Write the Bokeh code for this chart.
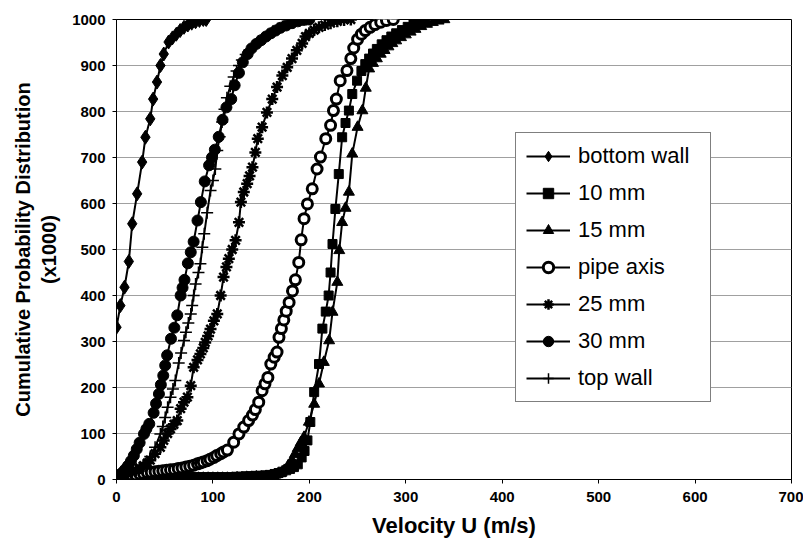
from bokeh.plotting import figure
from bokeh.models import Range1d, FixedTicker, Title
from bokeh.embed import file_html
from bokeh.resources import INLINE

# ---- data (velocity in m/s, cumulative probability x1000) ----
v_bottom = [0, 4, 8.3, 12.8, 16.3, 21.4, 26.6, 30, 35, 38, 42, 45.6, 49, 54, 58, 62, 66, 70, 74, 78, 82, 86, 90, 93]
c_bottom = [331, 378, 418, 474, 556, 621, 690, 744, 784, 827, 864, 900, 925, 951, 960, 968, 976, 983, 988, 992, 995, 998, 1000, 1000]

v_10 = [0, 5, 10, 15, 20, 25, 30, 35, 40, 45,
        50, 55, 60, 65, 70, 75, 80, 85, 90, 95,
        100, 105, 110, 115, 120, 125, 130, 135, 140, 145,
        150, 155, 160, 164, 168, 172, 176, 180, 184, 188,
        192, 195, 198, 201, 205, 210, 213.5, 217, 220, 222,
        224, 227, 230.5, 234, 237.5, 241, 244.5, 249.5, 254, 258,
        262, 266, 270, 275, 280, 285, 290, 296, 302, 308,
        314, 320]
c_10 = [5, 5, 5, 5, 5, 5, 5, 5, 5, 5,
        5, 5, 5, 5, 5, 5, 5, 5, 5, 5,
        5, 5, 5, 5, 5, 6, 6, 7, 7, 8,
        8, 9, 10, 12, 14, 17, 20, 23, 27, 33,
        48, 62, 85, 125, 190, 251, 328, 365, 400, 450,
        512, 588, 664, 744, 775, 802, 838, 867, 888, 903,
        915, 926, 936, 946, 955, 963, 970, 977, 984, 990,
        995, 1000]

v_15 = [0, 5, 10, 15, 20, 25, 30, 35, 40, 45,
        50, 55, 60, 65, 70, 75, 80, 85, 90, 95,
        100, 105, 110, 115, 120, 125, 130, 135, 140, 145,
        150, 155, 160, 165, 170, 174, 178, 182, 185, 188,
        191, 194.5, 199.5, 205, 210, 215, 220.5, 224, 229, 231,
        234, 237.5, 241, 244.5, 250, 255, 258.5, 262, 266, 270,
        274, 278, 282, 286, 290, 295, 300, 305, 310, 316,
        322, 328, 334, 340]
c_15 = [3, 3, 3, 3, 3, 3, 3, 3, 3, 3,
        3, 3, 3, 3, 3, 3, 3, 3, 3, 3,
        3, 3, 3, 3, 3, 4, 4, 5, 5, 6,
        6, 7, 8, 10, 13, 20, 30, 42, 55, 68,
        80, 92, 125, 164, 208, 255, 302, 364, 429, 498,
        559, 590, 625, 708, 766, 802, 851, 893, 905, 915,
        925, 933, 941, 948, 954, 961, 967, 973, 979, 985,
        990, 994, 997, 1000]

v_pipe = [0, 4, 8, 12, 16, 20, 24, 28, 32, 36,
          40, 44, 48, 52, 56, 60, 64, 68, 72, 76,
          80, 84, 87, 90, 94, 97, 101, 104, 108, 111,
          115, 121.5, 127, 132, 137, 141, 144, 147.5, 151, 154,
          157, 160, 163.5, 166.5, 168.5, 171, 173.5, 176, 179, 182.5,
          185.5, 189, 191.5, 194.5, 198, 203, 208, 211.5, 217, 222,
          225, 228, 232, 239, 243, 246, 250, 254, 258, 263,
          268, 274, 280, 287]
c_pipe = [3, 4, 6, 7, 9, 10, 12, 13, 15, 16,
          17, 18, 19, 20, 21, 22, 24, 25, 27, 29,
          31, 34, 36, 38, 41, 44, 48, 52, 56, 60,
          64, 81, 99, 114, 128, 140, 152, 168, 193, 208,
          222, 251, 266, 277, 309, 328, 347, 366, 385, 410,
          434, 472, 521, 567, 599, 632, 675, 701, 741, 770,
          802, 827, 867, 889, 915, 938, 957, 968, 976, 983,
          989, 994, 998, 1000]

v_25 = [0, 4, 8, 12, 16, 20, 24, 28, 32, 35,
        40, 45.5, 49, 53, 56, 59.5, 63, 66.5, 70, 73.5,
        77, 80, 84, 87, 90, 92, 95, 97.5, 101, 104.5,
        108, 111, 114, 116.5, 120, 123.5, 127, 129, 132, 135.5,
        138, 141, 144, 146.5, 151, 156, 161.5, 166.5, 172, 177,
        182, 187, 192.5, 196, 200, 205, 210, 216, 222, 229,
        236, 243]
c_25 = [0, 4, 8, 12, 16, 20, 25, 30, 36, 42,
        56, 70, 85, 100, 110, 120, 128, 154, 168, 179,
        204, 244, 260, 273, 286, 298, 312, 327, 345, 360,
        400, 440, 462, 480, 500, 520, 559, 603, 625, 643,
        660, 679, 711, 741, 766, 798, 827, 853, 878, 896,
        915, 933, 948, 963, 970, 977, 983, 988, 992, 996,
        999, 1000]

v_30 = [0, 3, 6, 9, 12, 15, 18, 21, 24, 28.5,
        31, 34, 38.5, 41, 44, 46, 48.5, 50.5, 52.5, 56.5,
        60, 63, 66.5, 68.5, 70.5, 74, 77, 80, 84, 87.5,
        91.5, 96, 99, 102, 106, 110, 114, 119, 122.5, 127,
        131, 136, 140, 145, 150, 155, 160, 165, 170, 176,
        182, 188, 194, 200]
c_30 = [5, 10, 15, 22, 30, 40, 52, 66, 80, 99,
        110, 121, 145, 165, 186, 206, 226, 248, 270, 306,
        330, 357, 400, 417, 434, 470, 494, 517, 563, 603,
        648, 683, 700, 717, 745, 782, 809, 827, 857, 884,
        907, 925, 937, 947, 955, 963, 970, 976, 982, 987,
        992, 996, 999, 1000]

v_top = [0, 5, 10, 15, 20, 25, 30, 35, 40, 45.5,
         48, 50.5, 53, 56, 58.5, 61, 64.5, 67, 70, 72,
         74.5, 77, 78.5, 80, 82, 85, 87, 89, 91, 94,
         97.5, 100, 102.5, 104.5, 107, 109.5, 112, 114.5, 118, 121.5,
         124.5, 127, 130, 134, 138, 142, 147, 152, 157, 162,
         167, 172, 178, 184, 190, 197]
c_top = [0, 3, 7, 12, 17, 25, 35, 50, 70, 99,
         115, 135, 157, 179, 197, 215, 253, 275, 302, 320,
         340, 360, 378, 400, 425, 450, 469, 505, 534, 580,
         628, 650, 675, 715, 745, 777, 805, 830, 855, 875,
         888, 900, 912, 924, 934, 943, 952, 960, 967, 974,
         980, 985, 990, 994, 998, 1000]

x_ticks = [0, 100, 200, 300, 400, 500, 600, 700]
y_ticks = [0, 100, 200, 300, 400, 500, 600, 700, 800, 900, 1000]

FONT = "Liberation Sans"

p = figure(width=803, height=541, x_range=Range1d(0, 700), y_range=Range1d(0, 1000),
           output_backend="svg", toolbar_location=None,
           min_border_left=116, min_border_right=12, min_border_top=19, min_border_bottom=62)

p.background_fill_color = "white"
p.outline_line_color = "black"
p.outline_line_width = 1

p.xgrid.visible = False
p.ygrid.grid_line_color = "#a0a0a0"
p.ygrid.grid_line_width = 1

p.xaxis.ticker = FixedTicker(ticks=x_ticks)
p.yaxis.ticker = FixedTicker(ticks=y_ticks)
for ax in (p.xaxis, p.yaxis):
    ax.axis_line_color = "black"
    ax.axis_line_width = 1
    ax.major_tick_line_color = "black"
    ax.major_tick_in = 0
    ax.major_tick_out = 4
    ax.minor_tick_line_color = None
    ax.major_label_text_font = FONT
    ax.major_label_text_font_size = "15px"
    ax.major_label_text_font_style = "bold"
    ax.major_label_text_color = "black"
    ax.axis_label_text_font = FONT
    ax.axis_label_text_font_style = "bold"
    ax.axis_label_text_color = "black"

p.xaxis.major_label_standoff = 8
p.yaxis.major_label_standoff = 7
p.xaxis.axis_label = "Velocity U (m/s)"
p.xaxis.axis_label_text_font_size = "22px"
p.xaxis.axis_label_standoff = 8
p.yaxis.axis_label = "(x1000)"
p.yaxis.axis_label_text_font_size = "20px"
p.yaxis.axis_label_standoff = 9

ytitle = Title(text="Cumulative Probability Distribution", align="center",
               text_font=FONT, text_font_size="20px", text_font_style="bold",
               text_color="black", standoff=3, offset=0)
p.add_layout(ytitle, "left")

series = [
    ("bottom wall", v_bottom, c_bottom, "diamond", 14, "black", 1),
    ("10 mm", v_10, c_10, "square", 9, "black", 1),
    ("15 mm", v_15, c_15, "triangle", 11, "black", 1),
    ("pipe axis", v_pipe, c_pipe, "circle", 10, "white", 3),
    ("25 mm", v_25, c_25, "asterisk", 12, "black", 2.5),
    ("30 mm", v_30, c_30, "circle", 11, "black", 1),
    ("top wall", v_top, c_top, "cross", 12, "black", 1.5),
]

for name, xs, ys, marker, size, fill, lw in series:
    p.line(xs, ys, line_color="black", line_width=2, legend_label=name)
    p.scatter(xs, ys, marker=marker, size=size, fill_color=fill,
              line_color="black", line_width=lw, legend_label=name)

lg = p.legend[0]
lg.location = (399, 77)
lg.border_line_color = "black"
lg.border_line_width = 1.5
lg.background_fill_color = "white"
lg.background_fill_alpha = 1
lg.label_text_font = FONT
lg.label_text_font_size = "22px"
lg.label_text_color = "black"
lg.glyph_width = 44
lg.glyph_height = 26
lg.label_height = 26
lg.label_width = 122
lg.label_standoff = 8
lg.spacing = 11
lg.padding = 10
lg.margin = 0

open("out.html", "w").write(file_html(p, INLINE))
